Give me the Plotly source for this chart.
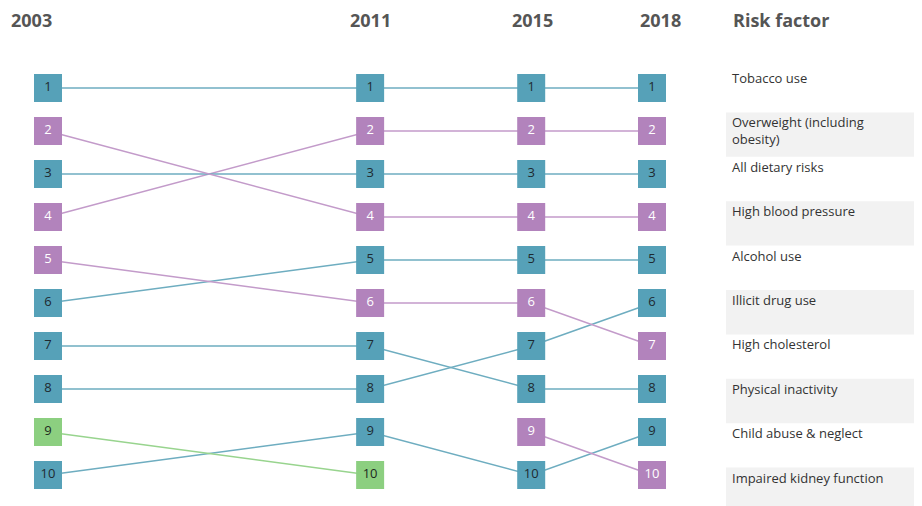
import plotly.graph_objects as go

years = [2003, 2011, 2015, 2018]
factors = ["Tobacco use", "Overweight (including obesity)", "All dietary risks",
           "High blood pressure", "Alcohol use", "Illicit drug use", "High cholesterol",
           "Physical inactivity", "Child abuse & neglect", "Impaired kidney function",
           "Occupational exposures & hazards"]
label_text = ["Tobacco use", "Overweight (including<br>obesity)", "All dietary risks",
              "High blood pressure", "Alcohol use", "Illicit drug use", "High cholesterol",
              "Physical inactivity", "Child abuse & neglect", "Impaired kidney function"]
category = ["behavioural", "metabolic", "behavioural", "metabolic", "behavioural",
            "behavioural", "metabolic", "behavioural", "behavioural", "metabolic",
            "environmental"]
ranks = {
    "Tobacco use": [1, 1, 1, 1],
    "Overweight (including obesity)": [4, 2, 2, 2],
    "All dietary risks": [3, 3, 3, 3],
    "High blood pressure": [2, 4, 4, 4],
    "Alcohol use": [6, 5, 5, 5],
    "Illicit drug use": [8, 8, 7, 6],
    "High cholesterol": [5, 6, 6, 7],
    "Physical inactivity": [7, 7, 8, 8],
    "Child abuse & neglect": [10, 9, 10, 9],
    "Impaired kidney function": [None, None, 9, 10],
    "Occupational exposures & hazards": [9, 10, None, None],
}

box_color = {"behavioural": "#56a1b8", "metabolic": "#b283bc", "environmental": "#8ccf80"}
line_color = {"behavioural": "#6eadc0", "metabolic": "#c39bca", "environmental": "#98d48e"}
text_color = {"behavioural": "#1e2a30", "metabolic": "#ffffff", "environmental": "#1e2a20"}

FONT = "Open Sans"
W, H = 922, 506
OFF = 8  # page body margin offset


def py(p):
    """page pixel y -> paper coordinate"""
    return 1 - (p - OFF) / H


def px(p):
    return (p - OFF) / W


px_per_year = 604 / 15
x0 = 2003 - (48 - OFF) / px_per_year
x1 = x0 + W / px_per_year
px_per_rank = 43
y_top = 1 - (88 - OFF) / px_per_rank
y_bot = y_top + H / px_per_rank

fig = go.Figure()

# connecting lines
for f, c in zip(factors, category):
    fig.add_trace(go.Scatter(x=years, y=ranks[f], mode="lines", connectgaps=False,
                             line=dict(color=line_color[c], width=1.5),
                             hoverinfo="skip", showlegend=False))

# boxes
for cat in ["behavioural", "metabolic", "environmental"]:
    xs, ys, ts, hs = [], [], [], []
    for f, c in zip(factors, category):
        if c != cat:
            continue
        for yr, r in zip(years, ranks[f]):
            if r is None:
                continue
            xs.append(yr); ys.append(r); ts.append(str(r)); hs.append(f"{f} ({yr}): {r}")
    fig.add_trace(go.Scatter(x=xs, y=ys, mode="markers+text", text=ts,
                             textposition="middle center",
                             textfont=dict(color=text_color[cat], size=13, family=FONT),
                             marker=dict(symbol="square", size=28, color=box_color[cat],
                                         line=dict(width=0)),
                             hovertext=hs, hoverinfo="text", showlegend=False))

# headers
hdr_x = {2003: 31, 2011: 370, 2015: 532, 2018: 660}
for yr in years:
    fig.add_annotation(x=px(hdr_x[yr]), y=py(20), xref="paper", yref="paper",
                       text=f"<b>{yr}</b>", showarrow=False, xanchor="center", yanchor="middle",
                       font=dict(size=18, color="#555555", family=FONT))
fig.add_annotation(x=px(731), y=py(20), xref="paper", yref="paper",
                   text="<b>Risk factor</b>", showarrow=False, xanchor="left", yanchor="middle",
                   font=dict(size=18, color="#555555", family=FONT))

# right-hand labels with alternating bands
row_h = 44.4
for i, lab in enumerate(label_text):
    top = 68 + i * row_h
    if i % 2 == 1:
        fig.add_shape(type="rect", xref="paper", yref="paper", x0=px(726), x1=1,
                      y0=py(top), y1=py(top + row_h),
                      fillcolor="#f2f2f2", line=dict(width=0), layer="below")
    fig.add_annotation(x=px(730), y=py(77 + i * row_h - 10), xref="paper", yref="paper",
                       text=lab, showarrow=False, xanchor="left", yanchor="top", align="left",
                       font=dict(size=13, color="#333333", family=FONT))

fig.update_layout(
    width=W, height=H, margin=dict(l=0, r=0, t=0, b=0),
    paper_bgcolor="white", plot_bgcolor="white",
    xaxis=dict(range=[x0, x1], visible=False, fixedrange=True),
    yaxis=dict(range=[y_bot, y_top], visible=False, fixedrange=True),
    showlegend=False,
)

fig.write_html("out.html")
